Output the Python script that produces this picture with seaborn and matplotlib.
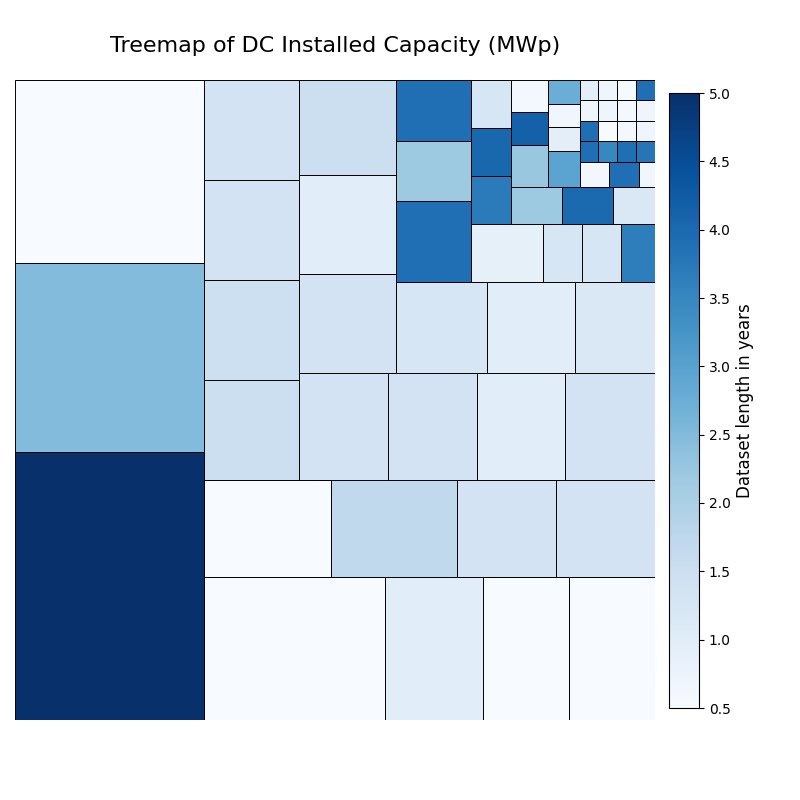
import matplotlib
matplotlib.use("Agg")
import matplotlib.pyplot as plt
import seaborn as sns
import numpy as np
import pandas as pd
from matplotlib.colors import Normalize
from matplotlib.cm import ScalarMappable

# ---- data (in layout order, roughly descending capacity) ----
capacity_mwp = [
    50.65, 35.72, 34.59, 25.88, 14.16, 12.30, 12.28, 12.27, 12.22,
    9.60, 9.60, 9.52, 9.52, 9.52, 9.52, 9.50, 9.50, 9.39, 9.57,
    9.60, 9.60, 9.24, 8.28, 8.01, 7.28, 6.08, 4.55, 4.55, 4.18,
    2.26, 2.26, 1.97, 1.92, 1.92, 1.92, 1.89, 1.89, 1.55, 1.55,
    1.19, 1.16, 1.15, 0.76, 0.76, 0.76, 0.76, 0.76, 0.40,
    0.385, 0.385, 0.385, 0.385, 0.385, 0.385, 0.385, 0.385,
    0.385, 0.385, 0.385, 0.385, 0.385, 0.385, 0.385, 0.385,
]
dataset_years = [
    5.0, 2.5, 0.5, 0.5, 1.0, 0.5, 0.5, 0.5, 1.7,
    1.33, 1.33, 1.5, 1.46, 1.33, 1.33, 1.33, 1.33, 1.0, 1.33,
    1.33, 1.0, 1.5, 1.25, 1.0, 1.16, 3.9, 2.2, 3.9, 0.9,
    1.25, 1.25, 3.65, 3.7, 4.05, 1.25, 2.2, 4.0, 1.16, 2.25,
    4.15, 0.6, 2.97, 0.95, 0.68, 2.75, 0.65, 3.9, 0.68,
    3.9, 3.5, 3.9, 3.8, 3.9, 0.7, 0.95, 0.5,
    0.6, 0.7, 0.7, 0.7, 0.6, 0.7, 0.55, 3.9,
]

df = pd.DataFrame({"capacity": capacity_mwp, "years": dataset_years})


# ---- squarified treemap layout ----
def normalize_sizes(sizes, dx, dy):
    total = sum(sizes)
    return [s * dx * dy / total for s in sizes]


def layoutrow(sizes, x, y, dx, dy):
    width = sum(sizes) / dy
    rects = []
    for s in sizes:
        rects.append((x, y, width, s / width))
        y += s / width
    return rects


def layoutcol(sizes, x, y, dx, dy):
    height = sum(sizes) / dx
    rects = []
    for s in sizes:
        rects.append((x, y, s / height, height))
        x += s / height
    return rects


def layout(sizes, x, y, dx, dy):
    return layoutrow(sizes, x, y, dx, dy) if dx >= dy else layoutcol(sizes, x, y, dx, dy)


def leftover(sizes, x, y, dx, dy):
    if dx >= dy:
        width = sum(sizes) / dy
        return x + width, y, dx - width, dy
    height = sum(sizes) / dx
    return x, y + height, dx, dy - height


def worst_ratio(sizes, x, y, dx, dy):
    return max(max(r[2] / r[3], r[3] / r[2]) for r in layout(sizes, x, y, dx, dy))


def squarify(sizes, x, y, dx, dy):
    sizes = list(map(float, sizes))
    if len(sizes) == 0:
        return []
    if len(sizes) == 1:
        return layout(sizes, x, y, dx, dy)
    i = 1
    while i < len(sizes) and worst_ratio(sizes[:i], x, y, dx, dy) >= worst_ratio(sizes[: i + 1], x, y, dx, dy):
        i += 1
    current, remaining = sizes[:i], sizes[i:]
    lx, ly, ldx, ldy = leftover(current, x, y, dx, dy)
    return layout(current, x, y, dx, dy) + squarify(remaining, lx, ly, ldx, ldy)


W = H = 100.0
rects = squarify(normalize_sizes(df["capacity"].tolist(), W, H), 0, 0, W, H)
df["x"] = [r[0] for r in rects]
df["y"] = [r[1] for r in rects]
df["dx"] = [r[2] for r in rects]
df["dy"] = [r[3] for r in rects]

# ---- plotting ----
cmap = sns.color_palette("Blues", as_cmap=True)
norm = Normalize(vmin=min(dataset_years), vmax=max(dataset_years))
colors = [cmap(norm(v)) for v in df["years"]]

fig = plt.figure(figsize=(8, 8), dpi=100)
ax = fig.add_axes([15 / 800, 80 / 800, 640 / 800, 640 / 800])
ax.bar(df["x"], df["dy"], width=df["dx"], bottom=df["y"], align="edge",
       color=colors, edgecolor="black", linewidth=0.7)
ax.set_xlim(0, W)
ax.set_ylim(0, H)
ax.axis("off")
ax.set_title("Treemap of DC Installed Capacity (MWp)", fontsize=16, pad=20, color="black")

cax = fig.add_axes([669 / 800, 92 / 800, 30 / 800, 615 / 800])
sm = ScalarMappable(norm=norm, cmap=cmap)
sm.set_array([])
cb = fig.colorbar(sm, cax=cax)
cb.set_label("Dataset length in years", fontsize=12, color="black")
cb.ax.tick_params(labelsize=10, colors="black")
cb.outline.set_edgecolor("black")
cb.outline.set_linewidth(0.8)

fig.savefig("out.png", dpi=100)
